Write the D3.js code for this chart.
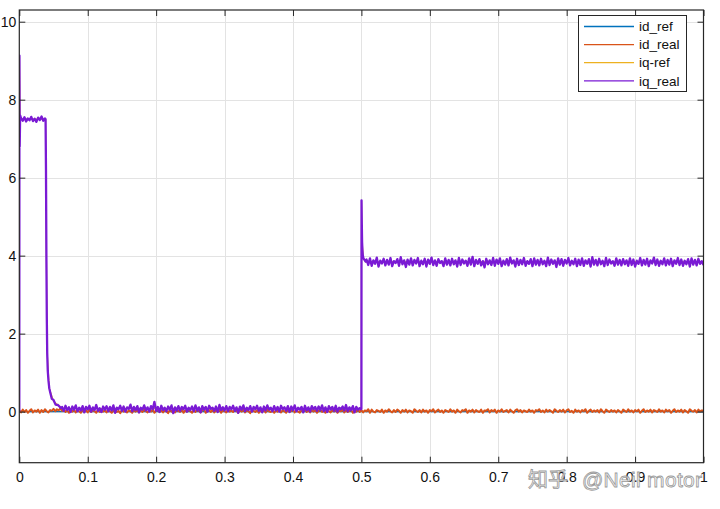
<!DOCTYPE html>
<html><head><meta charset="utf-8">
<script src="https://cdn.jsdelivr.net/npm/d3@7"></script>
<style>body{margin:0;background:#fff}</style>
</head><body><svg id="c" width="720" height="509"></svg>
<script>
const xTicks=[0,0.1,0.2,0.3,0.4,0.5,0.6,0.7,0.8,0.9,1];
const xTickLabels=["0","0.1","0.2","0.3","0.4","0.5","0.6","0.7","0.8","0.9","1"];
const yTicks=[0,2,4,6,8,10];
const yTickLabels=["0","2","4","6","8","10"];
const seriesNames=["id_ref","id_real","iq-ref","iq_real"];
const seriesColors=["#0072BD","#D95319","#EDB120","#7A1AD4"];
const sampleStep=0.0025;

const idRef=[[0,0],[1,0]];
const idReal=[
0.03,-0.02,0.05,-0.01,0.04,-0.03,0.02,0.06,-0.02,0.03,0.00,0.05,-0.03,0.04,-0.01,0.06,0.01,-0.02,0.04,0.02,0.07,0.01,0.06,0.03,0.08,
0.02,0.06,-0.01,0.04,-0.03,0.03,0.00,0.05,-0.02,0.04,0.01,-0.03,0.05,0.00,0.03,-0.02,0.06,-0.01,0.04,0.01,-0.03,0.05,-0.01,0.03,0.00,
0.04,-0.02,0.05,0.01,-0.03,0.03,0.06,-0.01,0.02,-0.04,0.04,0.00,0.05,-0.02,0.03,0.01,-0.03,0.06,0.00,0.04,-0.02,0.03,-0.01,0.05,0.01,
-0.02,0.04,0.00,0.06,-0.03,0.02,0.05,-0.01,0.03,-0.02,0.04,0.01,-0.04,0.05,0.00,0.03,-0.02,0.04,0.02,-0.01,0.06,-0.03,0.03,0.00,0.05,
0.01,-0.03,0.04,-0.01,0.05,0.02,-0.02,0.03,0.06,-0.03,0.02,0.04,-0.01,0.05,-0.02,0.03,0.00,0.06,-0.03,0.04,0.01,-0.02,0.05,0.00,0.03,
-0.01,0.05,0.02,-0.03,0.04,0.00,0.06,-0.02,0.03,0.01,-0.04,0.05,0.02,-0.01,0.04,-0.03,0.03,0.00,0.05,-0.02,0.06,0.01,-0.01,0.04,-0.03,
0.03,0.00,0.05,-0.02,0.04,0.01,-0.03,0.06,-0.01,0.02,0.05,-0.02,0.03,0.00,-0.03,0.04,0.02,0.06,-0.01,0.03,-0.02,0.05,0.00,0.04,-0.03,
0.02,0.05,-0.01,0.03,-0.03,0.06,0.01,-0.02,0.04,0.00,0.05,-0.03,0.03,0.01,0.06,-0.02,0.04,-0.01,0.02,0.05,-0.03,0.03,0.00,0.06,-0.01,
0.04,-0.02,0.03,0.01,0.06,-0.03,0.05,0.00,-0.02,0.04,0.02,-0.01,0.05,-0.03,0.03,0.00,0.06,0.01,-0.02,0.04,-0.01,0.05,0.02,-0.03,0.04,
0.00,0.05,-0.02,0.03,0.01,-0.03,0.06,0.02,-0.01,0.04,-0.02,0.05,0.00,0.03,-0.03,0.04,0.01,0.06,-0.02,0.02,0.05,-0.01,0.03,-0.03,0.04,
0.02,-0.01,0.06,0.00,0.03,-0.03,0.05,0.01,-0.02,0.04,0.02,0.06,-0.03,0.03,0.00,0.05,-0.02,0.04,0.01,-0.01,0.05,-0.03,0.03,0.02,0.06,
-0.02,0.04,0.01,0.05,-0.03,0.03,0.00,0.06,-0.01,0.02,0.04,-0.02,0.05,0.01,-0.03,0.03,0.06,0.00,0.04,-0.02,0.03,0.01,-0.01,0.05,0.00,
0.03,-0.03,0.04,0.02,0.06,-0.01,0.03,-0.02,0.05,0.00,0.04,0.01,-0.03,0.06,0.02,-0.01,0.04,0.00,0.05,-0.02,0.03,0.06,-0.01,0.02,-0.03,
0.05,0.00,0.03,-0.02,0.04,0.01,0.06,-0.03,0.02,0.05,-0.01,0.03,0.00,0.04,-0.02,0.06,0.01,-0.03,0.05,0.02,-0.01,0.04,0.00,0.03,-0.02,
0.04,0.01,-0.03,0.05,0.02,-0.01,0.06,0.00,0.03,-0.02,0.04,0.01,0.05,-0.03,0.02,0.06,-0.01,0.03,0.00,0.05,-0.02,0.04,0.02,-0.01,0.06,
0.00,0.03,-0.02,0.05,0.01,0.04,-0.03,0.02,0.06,-0.01,0.03,0.00,0.05,-0.02,0.04,0.01,-0.03,0.06,0.02,0.00,0.04,-0.02,0.05,0.01,0.03,
0.02];

const iqRefKnots=[[0,0],[0.0002,9.1],[0.0012,7.5],[0.0384,7.5],[0.0396,4.0],[0.0408,1.5],[0.0438,0.6],[0.05,0.27],[0.061,0.1],[0.065,0.08],[0.5,0.08],[0.5002,5.4],[0.501,4.35],[0.503,3.93],[0.506,3.84],[1,3.84]];

const iqRealKnots=[[0,0],[0.0002,9.13],[0.0006,6.8],[0.0012,7.6],
[0.0384,7.5],[0.039,6.2],[0.0396,4.0],[0.0402,2.4],[0.0408,1.5],[0.0416,1.05],[0.0426,0.8],[0.0438,0.6],[0.0455,0.47],[0.0475,0.33],[0.05,0.3],[0.053,0.18],[0.0565,0.17],[0.061,0.09],
[0.4995,0.06],[0.5,0.08],[0.5002,5.42],[0.5006,4.8],[0.501,4.35],[0.5015,4.15],[0.502,4.02],[0.503,3.93],[0.505,3.88],[0.5062,3.85]];

const iqRealHighT0=0.0025;
const iqRealHigh=[7.53,7.46,7.55,7.44,7.52,7.47,7.56,7.45,7.51,7.43,7.54,7.48,7.57,7.46,7.52];

const iqRealLowT0=0.0625;
const iqRealLow=[
0.12,0.02,0.15,0.04,0.11,-0.01,0.13,0.05,0.16,0.01,0.10,0.03,0.14,-0.02,0.12,0.06,0.15,0.00,0.11,0.04,0.17,0.02,0.09,-0.01,0.13,
0.05,0.14,0.01,0.12,0.03,0.16,-0.03,0.10,0.06,0.15,0.02,0.13,0.00,0.11,0.07,0.18,0.01,0.12,0.04,0.14,-0.02,0.10,0.05,0.16,0.03,
0.11,0.00,0.14,0.06,0.25,0.02,0.12,-0.01,0.15,0.04,0.10,0.01,0.13,0.05,0.16,-0.04,0.11,0.03,0.14,0.02,0.12,0.06,0.15,0.00,0.10,
0.04,0.13,0.01,0.16,0.03,0.11,-0.02,0.14,0.05,0.12,0.00,0.15,0.07,0.10,0.02,0.13,-0.01,0.17,0.04,0.11,0.03,0.14,0.01,0.12,0.06,
0.15,0.02,0.11,-0.03,0.13,0.05,0.16,0.01,0.10,0.04,0.14,0.00,0.12,0.06,0.15,0.02,0.11,-0.02,0.13,0.03,0.16,0.05,0.10,0.01,0.14,
0.03,0.12,0.00,0.15,0.06,0.11,0.02,0.14,-0.01,0.13,0.04,0.16,0.01,0.10,0.05,0.12,-0.02,0.15,0.03,0.11,0.00,0.14,0.06,0.12,0.02,
0.13,0.04,0.16,0.01,0.11,-0.01,0.14,0.05,0.12,0.02,0.15,0.00,0.10,0.06,0.13,0.03,0.17,0.01,0.11,0.04,0.14,-0.02,0.12,0.05,0.09];

const iqRealLoadT0=0.5075;
const iqRealLoad=[
3.90,3.76,3.93,3.74,3.88,3.79,3.95,3.72,3.87,3.80,3.92,3.75,3.89,3.77,3.94,3.73,3.86,3.81,3.91,3.74,3.96,3.78,3.88,3.71,3.90,
3.77,3.93,3.75,3.89,3.80,3.94,3.73,3.87,3.78,3.92,3.72,3.90,3.79,3.95,3.76,3.88,3.74,3.91,3.81,3.86,3.73,3.93,3.77,3.89,3.75,
3.92,3.78,3.88,3.72,3.94,3.76,3.90,3.80,3.87,3.74,3.93,3.77,3.97,3.73,3.89,3.79,3.91,3.75,3.86,3.70,3.92,3.78,3.88,3.76,3.94,
3.74,3.90,3.79,3.93,3.73,3.87,3.77,3.91,3.75,3.95,3.80,3.88,3.72,3.92,3.76,3.89,3.78,3.94,3.74,3.86,3.79,3.91,3.73,3.93,3.77,
3.89,3.75,3.92,3.78,3.87,3.73,3.95,3.76,3.90,3.79,3.88,3.71,3.93,3.77,3.91,3.74,3.89,3.80,3.94,3.75,3.87,3.78,3.92,3.73,3.90,
3.76,3.93,3.74,3.88,3.79,3.91,3.72,3.96,3.77,3.89,3.75,3.92,3.78,3.87,3.73,3.94,3.76,3.90,3.80,3.86,3.74,3.93,3.77,3.89,3.75,
3.91,3.78,3.88,3.74,3.93,3.76,3.90,3.72,3.87,3.79,3.94,3.75,3.89,3.77,3.92,3.73,3.88,3.80,3.95,3.76,3.90,3.74,3.87,3.78,3.93,
3.75,3.89,3.77,3.92,3.73,3.88,3.79,3.94,3.76,3.90,3.74,3.87,3.78,3.91,3.72,3.93,3.77,3.89,3.75,3.92,3.79,3.86,3.76];

// ---- build series ----
const sampled=(t0,vals)=>vals.map((v,i)=>[t0+i*sampleStep,v]);
const idRealPts=sampled(0,idReal);
const iqRealPts=[].concat(iqRealKnots,sampled(iqRealHighT0,iqRealHigh),sampled(iqRealLowT0,iqRealLow),sampled(iqRealLoadT0,iqRealLoad)).sort((a,b)=>a[0]-b[0]);
const seriesData=[idRef,idRealPts,iqRefKnots,iqRealPts];
const seriesWidths=[1.2,2.0,1.2,2.3];

const svg=d3.select("#c");
const L=19.3,R=703.5,T=10,B=462.7;
const x=d3.scaleLinear().domain([0,1]).range([L,R]);
const y=d3.scaleLinear().domain([-1.31,10.30]).range([B,T]);
const axisCol="#262626";
const font="'Liberation Sans', Arial, Helvetica, sans-serif";

svg.append("rect").attr("width",720).attr("height",509).attr("fill","#fff");

// grid
const grid=svg.append("g").attr("stroke","#e3e3e3").attr("stroke-width",1);
grid.selectAll(".gx").data(xTicks.slice(1,-1)).join("line")
 .attr("x1",d=>Math.round(x(d))+0.5).attr("x2",d=>Math.round(x(d))+0.5).attr("y1",T).attr("y2",B);
grid.selectAll(".gy").data(yTicks).join("line")
 .attr("y1",d=>Math.round(y(d))+0.5).attr("y2",d=>Math.round(y(d))+0.5).attr("x1",L).attr("x2",R);

// clip
svg.append("defs").append("clipPath").attr("id","pc").append("rect")
 .attr("x",L).attr("y",T).attr("width",R-L).attr("height",B-T);

const line=d3.line().x(d=>x(d[0])).y(d=>y(d[1]));
const lines=svg.append("g").attr("clip-path","url(#pc)");
seriesData.forEach((s,i)=>{
  lines.append("path").datum(s).attr("d",line).attr("fill","none")
   .attr("stroke",seriesColors[i]).attr("stroke-width",seriesWidths[i]).attr("stroke-linejoin","round");
});

// axes
function styleAxis(g){
  g.select(".domain").remove();
  g.selectAll(".tick line").attr("stroke",axisCol);
  g.selectAll("text").attr("fill","#111").style("font-family",font).style("font-size","14px");
}
svg.append("g").attr("transform",`translate(0,${B})`)
 .call(d3.axisBottom(x).tickValues(xTicks).tickFormat((d,i)=>xTickLabels[i]).tickSizeInner(-6).tickSizeOuter(0).tickPadding(9)).call(styleAxis);
svg.append("g").attr("transform",`translate(0,${T})`)
 .call(d3.axisTop(x).tickValues(xTicks).tickFormat("").tickSizeInner(-6).tickSizeOuter(0)).call(styleAxis);
svg.append("g").attr("transform",`translate(${L},0)`)
 .call(d3.axisLeft(y).tickValues(yTicks).tickFormat((d,i)=>yTickLabels[i]).tickSizeInner(-6).tickSizeOuter(0).tickPadding(3)).call(styleAxis);
svg.append("g").attr("transform",`translate(${R},0)`)
 .call(d3.axisRight(y).tickValues(yTicks).tickFormat("").tickSizeInner(-6).tickSizeOuter(0)).call(styleAxis);

svg.append("rect").attr("x",L).attr("y",T).attr("width",R-L).attr("height",B-T)
 .attr("fill","none").attr("stroke",axisCol).attr("stroke-width",1.2);

// legend
const lg=svg.append("g");
lg.append("rect").attr("x",578.5).attr("y",15.5).attr("width",108).attr("height",76)
 .attr("fill","#fff").attr("stroke",axisCol).attr("stroke-width",1);
seriesNames.forEach((n,i)=>{
  const yy=26.5+i*18.1;
  lg.append("line").attr("x1",584).attr("x2",634).attr("y1",yy).attr("y2",yy)
   .attr("stroke",seriesColors[i]).attr("stroke-width",1.3);
  lg.append("text").attr("x",639).attr("y",yy).attr("dy","0.35em").text(n)
   .attr("fill","#111").style("font-family",font).style("font-size","13.5px");
});

// watermark
const wm=svg.append("g").attr("fill","#f7f7f7").attr("fill-opacity",0.75).attr("stroke","#9a9a9a").attr("stroke-width",0.8);
wm.append("text").attr("x",528).attr("y",487).text("知乎")
 .style("font-family","'Noto Sans CJK SC', sans-serif").style("font-size","20px");
wm.append("text").attr("x",582).attr("y",487).attr("textLength",120).text("@Neil motor")
 .style("font-family",font).style("font-size","21px");
</script></body></html>
